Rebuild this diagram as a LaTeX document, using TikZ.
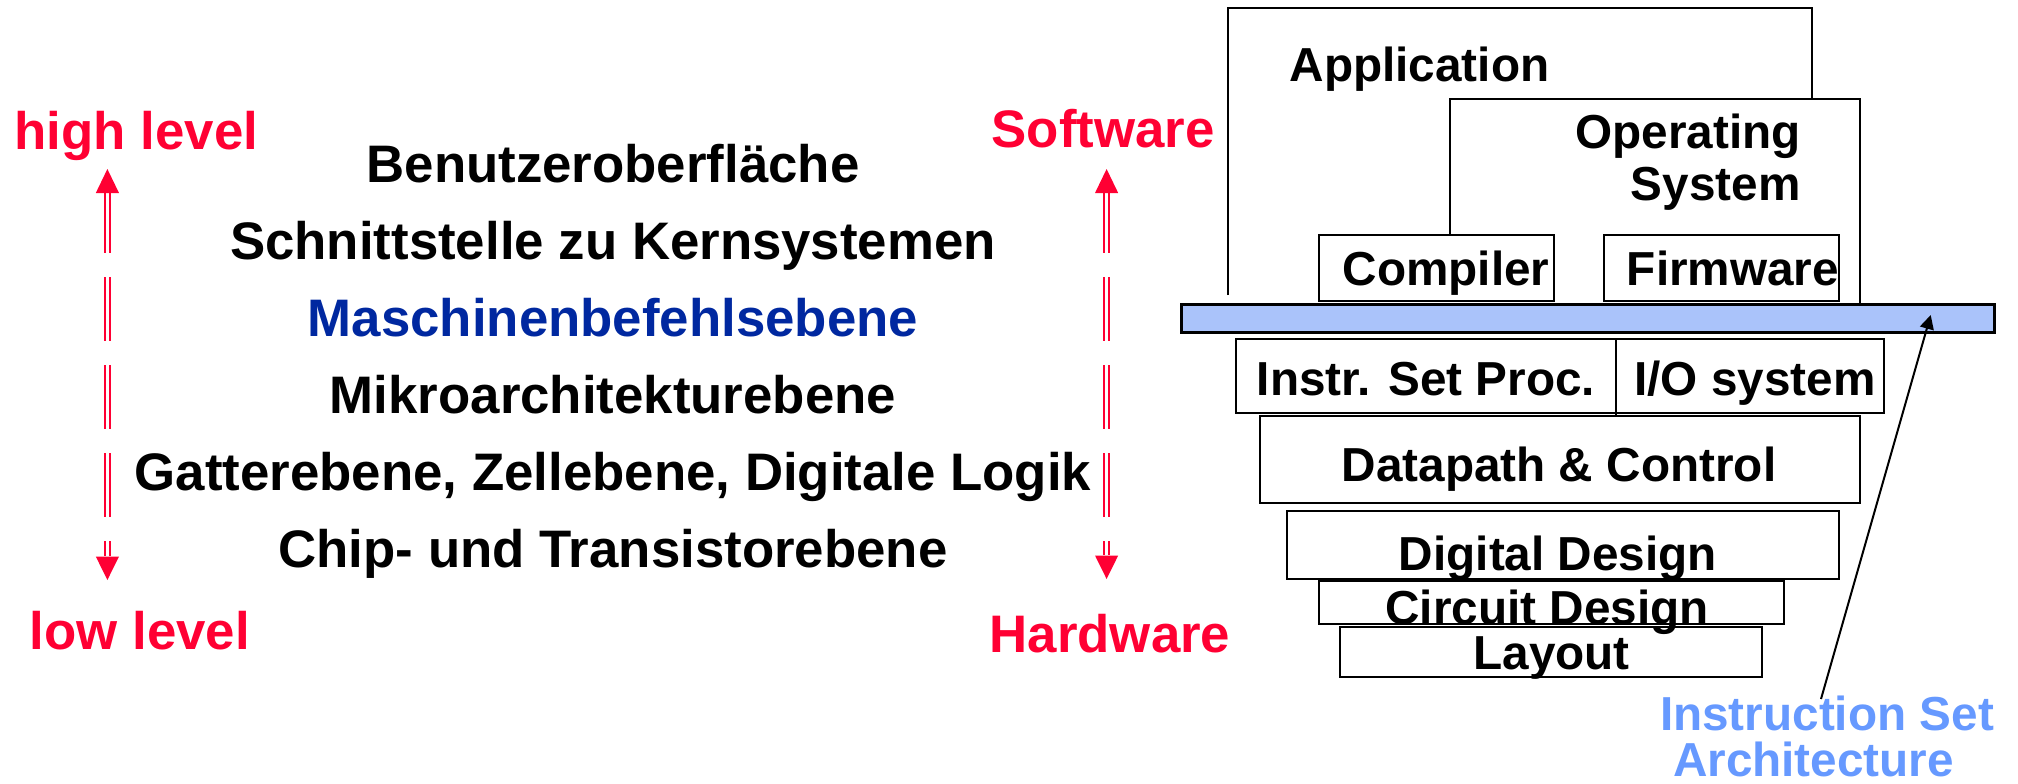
\documentclass[tikz,border=0pt]{standalone}
\usepackage{fontspec}
\setmainfont{Liberation Sans}
\usetikzlibrary{arrows.meta}
\definecolor{lvlred}{RGB}{255,0,51}
\definecolor{isablue}{RGB}{0,40,160}
\definecolor{archblue}{RGB}{102,153,255}
\definecolor{barfill}{RGB}{170,195,250}

\begin{document}
\begin{tikzpicture}[x=0.5pt,y=-0.5pt,
  lbl/.style={inner sep=0pt, anchor=base, font=\fontsize{26.4}{30}\selectfont\bfseries},
  lvl/.style={lbl, text=lvlred},
  stk/.style={inner sep=0pt, anchor=base, font=\fontsize{23.85}{28}\selectfont\bfseries},
  frame/.style={draw=black, line width=1pt},
  dblline/.style={draw=lvlred, line width=1pt, double=white, double distance=1.5pt,
                  dash pattern=on 32pt off 12pt, dash phase=2pt},
  headfill/.style={fill=lvlred},
]
\useasboundingbox (0,0) rectangle (2018,783);

% ---------- left column: abstraction levels ----------
\node[lvl] (hl) at (136.5,149) {high level};
\node[lvl] (ll) at (140,649.3) {low level};
\node[lvl] (sw) at (1103,147) {Software};
\node[lvl] (hw) at (1110,652) {Hardware};

\node[lbl] (l1) at (613,182.7) {Benutzeroberfläche};
\node[lbl] (l2) at (613,259.3) {Schnittstelle zu Kernsystemen};
\node[lbl, text=isablue] (l3) at (613,336.7) {Maschinenbefehlsebene};
\node[lbl] (l4) at (613,413.3) {Mikroarchitekturebene};
\node[lbl] (l5) at (613,490) {Gatterebene, Zellebene, Digitale Logik};
\node[lbl] (l6) at (613,567.3) {Chip- und Transistorebene};

% double dashed arrows between the level labels
\coordinate (hlTip) at (107.4,169);
\coordinate (llTip) at (107.4,580);
\coordinate (swTip) at (1106.6,169);
\coordinate (hwTip) at (1106.6,579);
\foreach \a/\b in {hlTip/llTip, swTip/hwTip}{
  \draw[dblline] ([yshift=-12pt]\a) -- ([yshift=12pt]\b);
  \fill[headfill] (\a) -- ++(-11.6,24) -- ++(23.2,0) -- cycle;
  \fill[headfill] (\b) -- ++(-11.6,-23.5) -- ++(23.2,0) -- cycle;
}

% ---------- right column: layer stack ----------
\draw[frame] (1227.6,295) -- (1227.6,8.3) -- (1812,8.3) -- (1812,99);
\draw[frame] (1449.5,235) -- (1449.5,99) -- (1860,99) -- (1860,304.5);
\draw[frame] (1318.6,235) rectangle (1554,301);
\draw[frame] (1603.5,235) rectangle (1839,301);
\draw[line width=1.5pt, fill=barfill] (1181,304.5) rectangle (1994,332);
\draw[frame] (1236,338.5) rectangle (1883.5,413);
\draw[frame] (1616,338.5) -- (1616,417);
\draw[frame] (1259.5,415.7) rectangle (1860,503);
\draw[frame] (1287,510.7) rectangle (1839,578.7);
\draw[frame] (1318.6,581) rectangle (1784,623.5);
\draw[frame] (1340,626.5) rectangle (1762,677);

\node[stk] (app) at (1419.5,81.7) {Application};
\node[stk, anchor=base east] (os1) at (1801,148.3) {Operating};
\node[stk, anchor=base east] (os2) at (1801,200) {System};
\node[stk] (comp) at (1446,285) {Compiler};
\node[stk] (firm) at (1733,285) {Firmware};
\node[stk] (isp) at (1426,395) {Instr. Set Proc.};
\node[stk] (io) at (1755,395) {I/O system};
\node[stk] (dpc) at (1559,481) {Datapath \& Control};
\node[stk] (dd) at (1558,570) {Digital Design};
\node[stk] (cd) at (1547,624) {Circuit Design};
\node[stk] (lay) at (1551.5,669.3) {Layout};

% ISA label with pointer to the bar
\node[stk, text=archblue] (isa1) at (1827,730) {Instruction Set};
\node[stk, text=archblue] (isa2) at (1813.5,776.5) {Architecture};
\coordinate (isaFoot) at (1821,699);
\coordinate (isaTip) at (1930.7,315);
\draw[line width=1pt, -{Triangle[length=7pt,width=7pt]}] (isaFoot) -- (isaTip);
\end{tikzpicture}
\end{document}
